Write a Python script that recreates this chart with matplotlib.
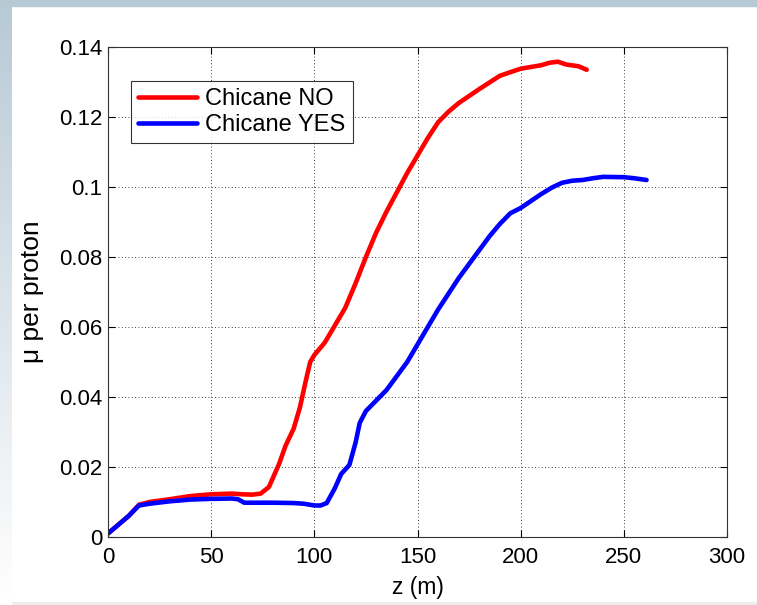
import numpy as np
import matplotlib
matplotlib.use("Agg")
import matplotlib.pyplot as plt
from matplotlib.patches import Rectangle

# Data
z_no = [0, 5, 10, 15, 20, 30, 40, 50, 60, 65, 70, 74, 78, 83, 86, 90, 93, 96, 98, 100, 105, 110,
        115, 120, 125, 130, 135, 140, 145, 150, 155, 160, 165, 170, 180, 190, 200, 210, 214, 218, 222, 228, 232]
mu_no = [0.001, 0.0035, 0.006, 0.0092, 0.0100, 0.0108, 0.0117, 0.0122, 0.0124, 0.0122, 0.0121, 0.0124,
         0.0143, 0.021, 0.026, 0.031, 0.037, 0.045, 0.050, 0.052, 0.0555, 0.0605, 0.0655, 0.0725, 0.080,
         0.087, 0.093, 0.0985, 0.104, 0.109, 0.114, 0.1185, 0.1215, 0.124, 0.128, 0.1318, 0.1338, 0.1348,
         0.1355, 0.1358, 0.135, 0.1345, 0.1335]

z_yes = [0, 5, 10, 15, 20, 30, 40, 50, 60, 63, 66, 70, 80, 90, 95, 100, 103, 106, 110, 113, 117, 120,
         122, 125, 130, 135, 140, 145, 150, 155, 160, 165, 170, 175, 180, 185, 190, 195, 200, 205, 210,
         215, 220, 225, 230, 235, 240, 250, 255, 261]
mu_yes = [0.001, 0.0035, 0.006, 0.009, 0.0095, 0.0102, 0.0107, 0.0109, 0.011, 0.0108, 0.0098, 0.0098,
          0.0098, 0.0097, 0.0095, 0.009, 0.009, 0.0097, 0.014, 0.018, 0.0206, 0.027, 0.0326, 0.036, 0.039,
          0.042, 0.046, 0.050, 0.055, 0.060, 0.065, 0.0695, 0.074, 0.078, 0.082, 0.086, 0.0895, 0.0925,
          0.094, 0.096, 0.098, 0.0998, 0.1012, 0.1018, 0.102, 0.1025, 0.1029, 0.1028, 0.1025, 0.102]

xticks = [0, 50, 100, 150, 200, 250, 300]
yticks = [0, 0.02, 0.04, 0.06, 0.08, 0.1, 0.12, 0.14]
yticklabels = ["0", "0.02", "0.04", "0.06", "0.08", "0.1", "0.12", "0.14"]

plt.rcParams['font.family'] = ['Liberation Sans', 'DejaVu Sans']

fig = plt.figure(figsize=(7.57, 6.05), dpi=100)
fig.patch.set_facecolor('white')

# slide background: top strip and left gradient strip
bg = fig.add_axes([0, 0, 1, 1], zorder=-10)
bg.axis('off')
top_col = np.array([0.72, 0.79, 0.84])
grad = np.linspace(0, 1, 200)[:, None]
img = top_col[None, None, :] * (1 - grad[..., None]) + np.array([1, 1, 1])[None, None, :] * grad[..., None]
img = np.clip(img, 0, 1)
bg.imshow(img, extent=[0, 12, 605, 0], aspect='auto', interpolation='bilinear')
bg.add_patch(Rectangle((0, 0), 757, 6, color=top_col))
bg.add_patch(Rectangle((12, 602), 745, 3, color=(0.93, 0.93, 0.93)))
bg.set_xlim(0, 757)
bg.set_ylim(605, 0)

ax = fig.add_axes([108 / 757, 1 - 537 / 605, (727 - 108) / 757, (537 - 47) / 605])
ax.plot(z_no, mu_no, color='#ff0000', lw=3.3, label='Chicane NO', solid_capstyle='round')
ax.plot(z_yes, mu_yes, color='#0000ff', lw=3.3, label='Chicane YES', solid_capstyle='round')

ax.set_xlim(0, 300)
ax.set_ylim(0, 0.14)
ax.set_xticks(xticks)
ax.set_yticks(yticks)
ax.set_yticklabels(yticklabels)
ax.tick_params(direction='in', top=True, right=True, labelsize=16, length=5, width=0.8)
ax.tick_params(axis='x', pad=7)
ax.tick_params(axis='y', pad=4)
ax.grid(True, linestyle=(0, (1, 3)), color='black', linewidth=0.6)
for s in ax.spines.values():
    s.set_linewidth(0.8)
    s.set_color('#333333')
ax.set_xlabel('z (m)', fontsize=16.5, labelpad=6)
ax.set_ylabel('μ per proton', fontsize=19, labelpad=11)

leg = ax.legend(loc='upper left', bbox_to_anchor=(0.037, 0.93), fontsize=17, frameon=True,
                fancybox=False, edgecolor='black', handlelength=2.5, borderpad=0.3,
                labelspacing=0.15, handletextpad=0.35, borderaxespad=0)
leg.get_frame().set_linewidth(0.8)

fig.savefig('out.png', dpi=100)
